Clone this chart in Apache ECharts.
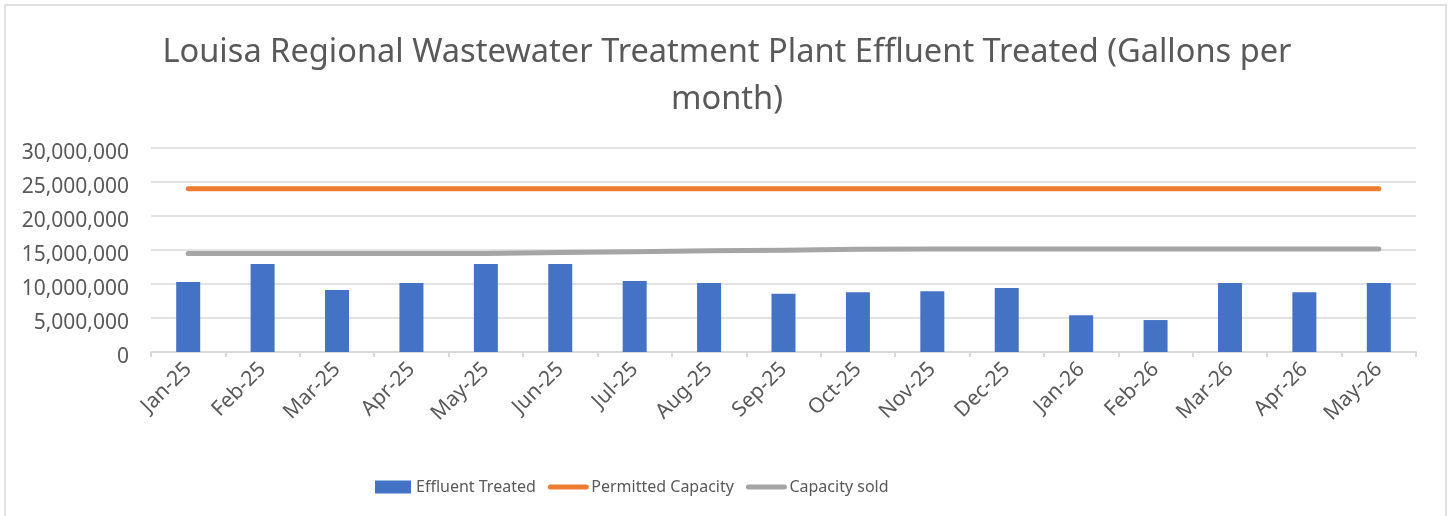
<!DOCTYPE html>
<html>
<head>
<meta charset="utf-8">
<title>Louisa Regional WWTP Effluent Treated</title>
<script src="https://cdn.jsdelivr.net/npm/echarts@6/dist/echarts.min.js"></script>
<style>
    html, body { margin: 0; padding: 0; background: #fff; }
    #chart { width: 1449px; height: 516px; }
</style>
</head>
<body>
<div id="chart"></div>
<script>
// 月份类目
const months = ['Jan-25', 'Feb-25', 'Mar-25', 'Apr-25', 'May-25', 'Jun-25', 'Jul-25', 'Aug-25',
    'Sep-25', 'Oct-25', 'Nov-25', 'Dec-25', 'Jan-26', 'Feb-26', 'Mar-26', 'Apr-26', 'May-26'];
// 每月处理的污水量 (加仑)
const effluentTreated = [10300000, 12950000, 9100000, 10150000, 12950000, 12950000, 10450000, 10150000,
    8550000, 8800000, 8950000, 9400000, 5400000, 4700000, 10150000, 8800000, 10150000];
// 许可容量
const permittedCapacity = [24000000, 24000000, 24000000, 24000000, 24000000, 24000000, 24000000, 24000000,
    24000000, 24000000, 24000000, 24000000, 24000000, 24000000, 24000000, 24000000, 24000000];
// 已售容量
const capacitySold = [14500000, 14500000, 14500000, 14500000, 14500000, 14650000, 14750000, 14900000,
    14950000, 15100000, 15150000, 15150000, 15150000, 15150000, 15150000, 15150000, 15150000];
// y轴刻度
const yTicks = [0, 5000000, 10000000, 15000000, 20000000, 25000000, 30000000];

const titleText = 'Louisa Regional Wastewater Treatment Plant Effluent Treated (Gallons per\nmonth)';
const textColor = '#595959';
const gridColor = '#d9d9d9';
const fontFamily = '"Noto Sans", sans-serif';

const myChart = echarts.init(document.getElementById('chart'));

const option = {
    animation: false,
    backgroundColor: '#fff',
    textStyle: { fontFamily: fontFamily },
    title: {
        text: titleText,
        left: 722,
        top: 24,
        textAlign: 'center',
        textStyle: {
            fontFamily: fontFamily,
            fontSize: 32.6,
            fontWeight: 'normal',
            color: textColor,
            lineHeight: 47,
            align: 'center'
        }
    },
    // 外框
    graphic: [{
        type: 'rect',
        shape: { x: 5, y: 5, width: 1441, height: 540 },
        style: { fill: 'none', stroke: gridColor, lineWidth: 1.5 },
        silent: true
    }],
    grid: {
        left: 151,
        right: 33,
        top: 148,
        bottom: 164
    },
    legend: {
        left: 370,
        top: 474,
        itemWidth: 36,
        itemHeight: 13,
        itemGap: 12,
        textStyle: {
            fontFamily: fontFamily,
            fontSize: 16,
            color: textColor
        },
        data: [
            { name: 'Effluent Treated', icon: 'rect' },
            { name: 'Permitted Capacity', itemStyle: { opacity: 0 }, lineStyle: { width: 5, cap: 'round' } },
            { name: 'Capacity sold', itemStyle: { opacity: 0 }, lineStyle: { width: 5, cap: 'round' } }
        ]
    },
    xAxis: {
        type: 'category',
        data: months,
        boundaryGap: true,
        axisLine: { lineStyle: { color: gridColor, width: 2 } },
        axisTick: { show: true, length: 5, lineStyle: { color: gridColor, width: 2 } },
        axisLabel: {
            rotate: 45,
            margin: 14,
            fontSize: 21,
            color: textColor,
            fontFamily: fontFamily
        }
    },
    yAxis: {
        type: 'value',
        min: yTicks[0],
        max: yTicks[yTicks.length - 1],
        interval: yTicks[1] - yTicks[0],
        axisLine: { show: false },
        axisTick: { show: false },
        splitLine: { lineStyle: { color: gridColor, width: 1.5 } },
        axisLabel: {
            margin: 22,
            fontSize: 21,
            color: textColor,
            fontFamily: fontFamily,
            verticalAlign: 'top',
            lineHeight: 10,
            formatter: function (v) {
                return v.toLocaleString('en-US');
            }
        }
    },
    series: [
        {
            name: 'Effluent Treated',
            type: 'bar',
            data: effluentTreated,
            barWidth: 24,
            itemStyle: { color: '#4472C4' }
        },
        {
            name: 'Permitted Capacity',
            type: 'line',
            data: permittedCapacity,
            symbol: 'none',
            lineStyle: { color: '#ED7D31', width: 5, cap: 'round', join: 'round' },
            itemStyle: { color: '#ED7D31' }
        },
        {
            name: 'Capacity sold',
            type: 'line',
            data: capacitySold,
            symbol: 'none',
            lineStyle: { color: '#A5A5A5', width: 5, cap: 'round', join: 'round' },
            itemStyle: { color: '#A5A5A5' }
        }
    ]
};

myChart.setOption(option);
</script>
</body>
</html>
